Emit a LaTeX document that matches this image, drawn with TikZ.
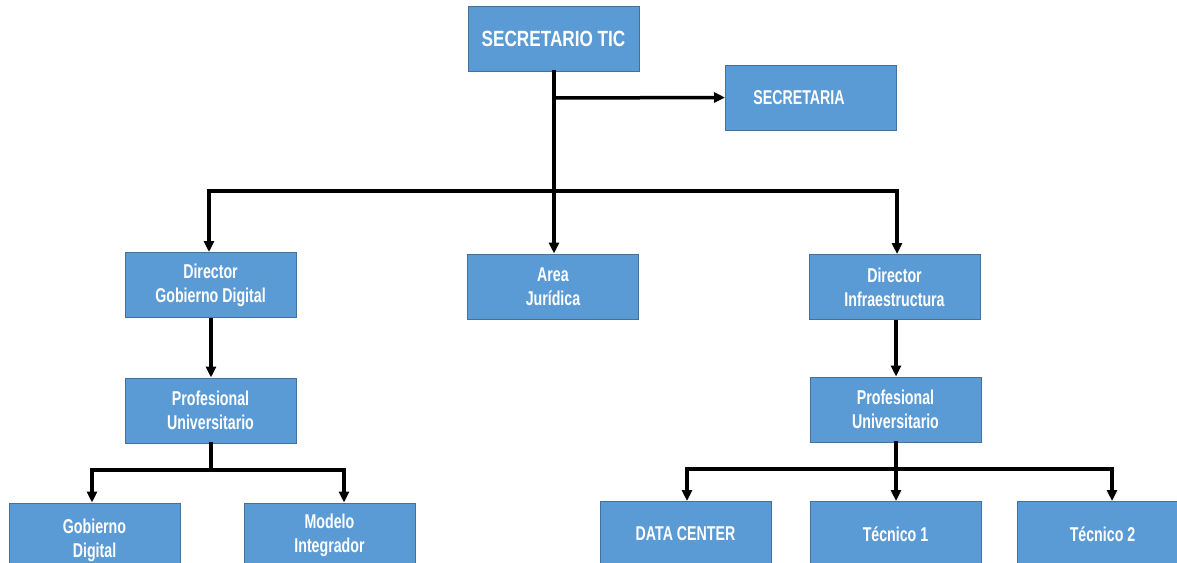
\documentclass[tikz,border=0pt]{standalone}
\usepackage{fontspec}
\setmainfont{Liberation Sans}[FakeStretch=0.71]
\newfontfamily\titlefont{Liberation Sans}[FakeStretch=0.78]
\usetikzlibrary{arrows.meta}
\definecolor{boxblue}{HTML}{5B9BD5}
\definecolor{boxedge}{HTML}{41719C}
\tikzset{
  orgbox/.style={rectangle, fill=boxblue, draw=boxedge, line width=1pt,
    minimum width=171pt, minimum height=65pt, inner sep=0pt, align=center,
    text=white, font=\fontsize{20}{24}\selectfont\bfseries},
  link/.style={line width=3.5pt, line cap=rect},
  arr/.style={line width=3.5pt, -{Triangle[length=11pt,width=10pt]}},
}
\begin{document}
\begin{tikzpicture}[x=1pt,y=-1pt]
\useasboundingbox (0,0) rectangle (1177,562);
\clip (0,0) rectangle (1177,562);
\fill[white] (0,0) rectangle (1177,562);
% nodes
\node[orgbox, font=\titlefont\fontsize{22}{26}\selectfont\bfseries] (sec) at (553.5,38.5) {SECRETARIO TIC};
\node[orgbox] (secr) at (811,97.5) {\hspace*{-24pt}SECRETARIA};
\node[orgbox] (dgd) at (210.5,285) {Director\\Gobierno Digital};
\node[orgbox] (aj) at (553,286.5) {Area\\Jurídica};
\node[orgbox] (di) at (894.5,287) {Director\\Infraestructura};
\node[orgbox] (pu1) at (210.5,410.5) {Profesional\\Universitario};
\node[orgbox] (pu2) at (895.5,409.5) {Profesional\\Universitario};
\node[orgbox, minimum height=74pt] (gd) at (94.5,540) {Gobierno\\Digital};
\node[orgbox] (mi) at (329.5,535.5) {Modelo\\Integrador};
\node[orgbox] (dc) at (685.5,534) {DATA CENTER};
\node[orgbox] (t1) at (895.5,534) {Técnico 1};
\node[orgbox] (t2) at (1102.5,534) {Técnico 2};
% bus coordinates
\coordinate (b0) at (554,191);
\coordinate (bL) at (209,191);
\coordinate (bR) at (897,191);
\coordinate (s0) at (554,98);
\coordinate (l0) at (211,470);
\coordinate (lL) at (92,470);
\coordinate (lR) at (344,470);
\coordinate (r0) at (896,469);
\coordinate (rL) at (687,469);
\coordinate (rR) at (1112,469);
% connectors top
\draw[link] (sec.south -| b0) -- (b0);
\draw[link] (bL) -- (bR);
\draw[arr] (s0) -- (secr.west);
\draw[arr] (bL) -- (bL |- dgd.north);
\draw[arr] (b0) -- (aj.north -| b0);
\draw[arr] (bR) -- (bR |- di.north);
% left branch
\draw[arr] (dgd.south -| l0) -- (pu1.north -| l0);
\draw[link] (pu1.south -| l0) -- (l0);
\draw[link] (lL) -- (lR);
\draw[arr] (lL) -- (lL |- gd.north);
\draw[arr] (lR) -- (lR |- mi.north);
% right branch
\draw[arr] (di.south -| r0) -- (pu2.north -| r0);
\draw[link] (pu2.south -| r0) -- (r0);
\draw[link] (rL) -- (rR);
\draw[arr] (rL) -- (rL |- dc.north);
\draw[arr] (r0) -- (r0 |- t1.north);
\draw[arr] (rR) -- (rR |- t2.north);
\end{tikzpicture}
\end{document}
